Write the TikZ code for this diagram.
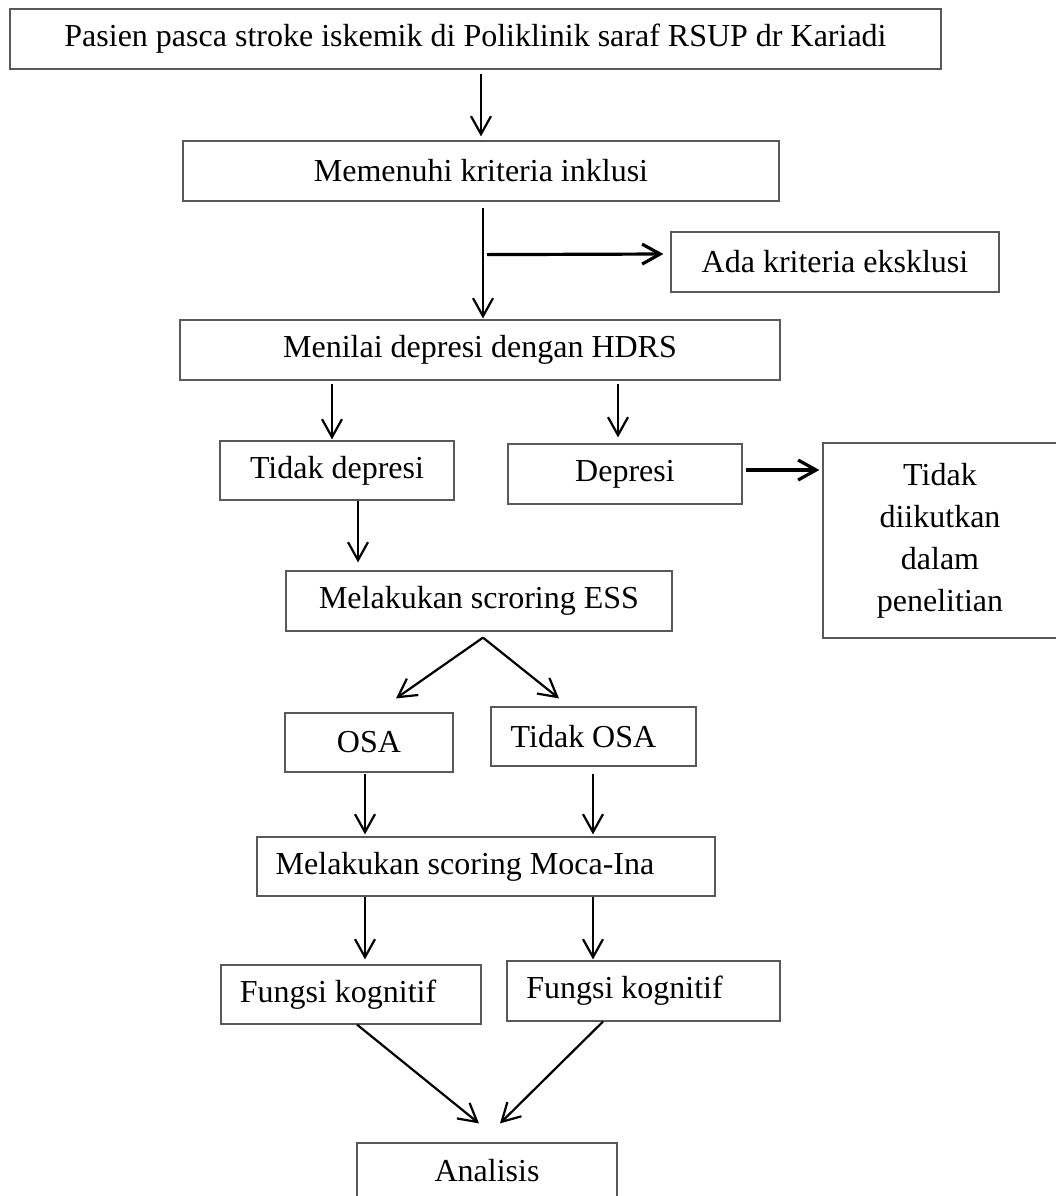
\documentclass[tikz,border=0pt]{standalone}
\usepackage{fontspec}
\setmainfont{Liberation Serif}
\usetikzlibrary{arrows.meta,calc}
\begin{document}
\begin{tikzpicture}[x=0.5pt,y=-0.5pt,
  box/.style={draw=black!65, line width=0.6pt, rectangle, inner sep=0pt,
    font=\fontsize{16pt}{21pt}\selectfont, align=center},
  lab/.style={font=\fontsize{16pt}{21pt}\selectfont, inner sep=0pt},
  arr/.style={-{Straight Barb[length=9pt,width=10pt]}, line width=1.1pt},
  arrb/.style={arr, line width=1.6pt}]
\clip (0,0) rectangle (1056,1196);
\useasboundingbox (0,0) rectangle (1056,1196);

\node[box, minimum width=465.5pt, minimum height=30pt] (b1) at (475.5,39)
  {Pasien pasca stroke iskemik di Poliklinik saraf RSUP dr Kariadi};
\node[box, minimum width=298pt, minimum height=30pt] (b2) at (481,171)
  {Memenuhi kriteria inklusi};
\node[box, minimum width=164pt, minimum height=30pt] (ada) at (835,262)
  {Ada kriteria eksklusi};
\node[box, minimum width=300pt, minimum height=30pt] (hdrs) at (480,350)
  {Menilai depresi dengan HDRS};
\node[box, minimum width=117pt, minimum height=29.5pt] (tdep) at (337,470.5)
  {Tidak depresi};
\node[box, minimum width=117pt, minimum height=30pt] (dep) at (625,474)
  {Depresi};
\node[box, minimum width=117pt, minimum height=97.5pt] (tdk) at (940,540.5)
  {Tidak\\diikutkan\\dalam\\penelitian};
\node[box, minimum width=193pt, minimum height=30pt] (ess) at (479,601)
  {Melakukan scroring ESS};
\node[box, minimum width=84pt, minimum height=29.5pt] (osa) at (369,742.5)
  {OSA};
\node[box, minimum width=102.5pt, minimum height=29.5pt,
  label={[lab,xshift=-5pt]center:Tidak OSA}] (tosa) at (593.5,736.5) {};
\node[box, minimum width=229pt, minimum height=29.5pt,
  label={[lab,xshift=-10.5pt]center:Melakukan scoring Moca-Ina}] (moca) at (486,866.5) {};
\node[box, minimum width=130pt, minimum height=29.5pt,
  label={[lab,xshift=-6.5pt]center:Fungsi kognitif}] (fk1) at (351,994.5) {};
\node[box, minimum width=136.5pt, minimum height=30pt,
  label={[lab,xshift=-9.5pt]center:Fungsi kognitif}] (fk2) at (643.5,991) {};
\node[box, minimum width=130pt, minimum height=27.5pt] (ana) at (487,1170.5)
  {Analisis};

\draw[arr] ($(b1.south -| b2.north)+(0,4)$) -- ($(b2.north)+(0,-4)$);
\draw[arr] ($(b2.south)+(2,6)$) -- ($(hdrs.north)+(3,-1)$);
\coordinate (br) at ($(b2.south)+(6,53)$);
\draw[arrb] (br) -- ($(ada.west)+(-7,-8)$);
\draw[arr] ($(hdrs.south)+(-148,3)$) -- ($(tdep.north)+(-5,-1)$);
\draw[arr] ($(hdrs.south)+(138,3)$) -- ($(dep.north)+(-7,-6)$);
\draw[arrb] ($(dep.east)+(3,-4)$) -- ($(tdk.west)+(-3,-70.5)$);
\draw[arr] ($(tdep.south)+(21,0)$) -- ($(ess.north)+(-121,-8)$);
\coordinate (apex) at ($(ess.south)+(4,6)$);
\draw[arr] (apex) -- ($(osa.north)+(27,-14)$);
\draw[arr] (apex) -- ($(tosa.north)+(-34.5,-8)$);
\draw[arr] ($(osa.south)+(-4,1)$) -- ($(moca.north)+(-121,-2)$);
\draw[arr] ($(tosa.south)+(-0.5,7)$) -- ($(moca.north)+(107,-2)$);
\draw[arr] ($(moca.south)+(-121,0)$) -- ($(fk1.north)+(14,-5)$);
\draw[arr] ($(moca.south)+(107,0)$) -- ($(fk2.north)+(-50.5,-1)$);
\draw[arr] ($(fk1.south)+(6,0)$) -- ($(ana.north)+(-8,-19)$);
\draw[arr] ($(fk2.south)+(-40.5,0)$) -- ($(ana.north)+(13,-19)$);
\end{tikzpicture}
\end{document}
